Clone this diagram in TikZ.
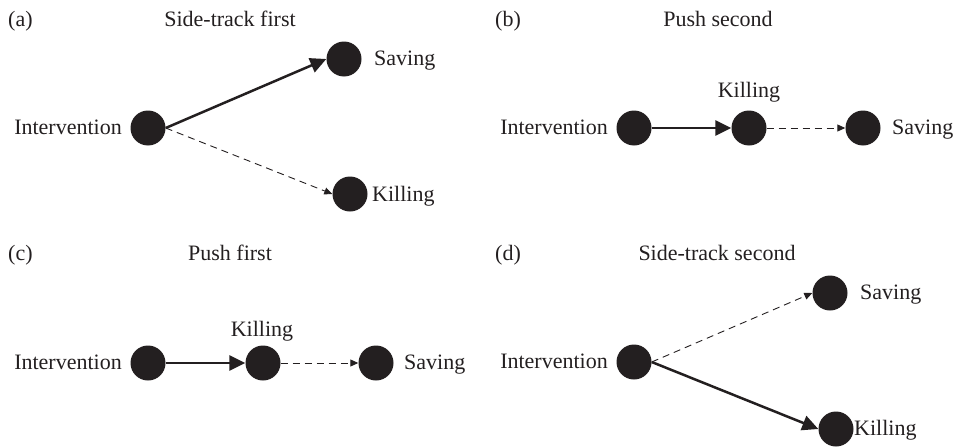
\documentclass[tikz,border=0pt]{standalone}
\usepackage{fontspec}
\setmainfont{Liberation Serif}
\usetikzlibrary{arrows.meta}
\definecolor{ink}{RGB}{35,31,32}
\begin{document}
\begin{tikzpicture}[x=1pt,y=-1pt,
  dot/.style={circle,fill=ink,minimum size=35pt,inner sep=0pt},
  txt/.style={font=\fontsize{22}{26}\selectfont,text=ink,inner sep=0pt},
  strong/.style={draw=ink,line width=2.5pt,-{Triangle[length=16pt,width=15pt]}},
  weak/.style={draw=ink,line width=0.9pt,dash pattern=on 7pt off 5pt,-{Triangle[length=8pt,width=7pt]}},
]
\useasboundingbox (0,0) rectangle (953,447);

% (a)
\node[txt,anchor=base west] (la) at (8,27) {(a)};
\node[txt,anchor=base] (ta) at (230,27) {Side-track first};
\node[dot] (ai) at (148,128) {};
\node[dot] (as) at (344,59) {};
\node[dot] (ak) at (350,194) {};
\node[txt,anchor=base east] (ail) at (122,134) {Intervention};
\node[txt,anchor=base west] (asl) at (374,65) {Saving};
\node[txt,anchor=base west] (akl) at (372,201) {Killing};
\draw[strong] (ai.east) -- (as.west);
\draw[weak] (ai.east) -- (ak.west);

% (b)
\node[txt,anchor=base west] (lb) at (495,27) {(b)};
\node[txt,anchor=base] (tb) at (718,27) {Push second};
\node[dot] (bi) at (634,128) {};
\node[dot] (bk) at (749,128) {};
\node[dot] (bs) at (863,128) {};
\node[txt,anchor=base east] (bil) at (608,134) {Intervention};
\node[txt,anchor=base] (bkl) at (749,97) {Killing};
\node[txt,anchor=base west] (bsl) at (892,134) {Saving};
\draw[strong] (bi.east) -- (bk.west);
\draw[weak] (bk.east) -- (bs.west);

% (c)
\node[txt,anchor=base west] (lc) at (8,260) {(c)};
\node[txt,anchor=base] (tc) at (230,260) {Push first};
\node[dot] (ci) at (148,363) {};
\node[dot] (ck) at (263,363) {};
\node[dot] (cs) at (376,363) {};
\node[txt,anchor=base east] (cil) at (122,369) {Intervention};
\node[txt,anchor=base] (ckl) at (262,336) {Killing};
\node[txt,anchor=base west] (csl) at (404,369) {Saving};
\draw[strong] (ci.east) -- (ck.west);
\draw[weak] (ck.east) -- (cs.west);

% (d)
\node[txt,anchor=base west] (ld) at (495,260) {(d)};
\node[txt,anchor=base] (td) at (717,260) {Side-track second};
\node[dot] (di) at (634,362) {};
\node[dot] (ds) at (830,293) {};
\node[dot] (dk) at (836,429) {};
\node[txt,anchor=base east] (dil) at (608,368) {Intervention};
\node[txt,anchor=base west] (dsl) at (860,299) {Saving};
\node[txt,anchor=base west] (dkl) at (854,435) {Killing};
\draw[weak] (di.east) -- (ds.west);
\draw[strong] (di.east) -- (dk.west);
\end{tikzpicture}
\end{document}
